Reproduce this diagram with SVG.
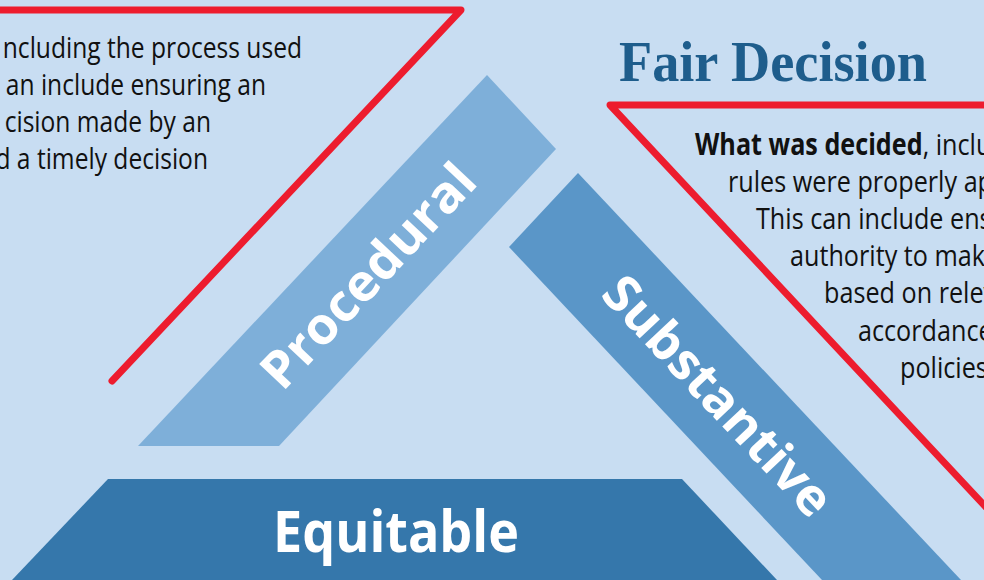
<svg xmlns="http://www.w3.org/2000/svg" width="984" height="580" viewBox="0 0 984 580">
  <style>
    .body { font-family: "Open Sans", "Noto Sans", "Liberation Sans", sans-serif; font-size: 30px; fill: #111111; }
    .strong { font-weight: 700; }
    .label { font-family: "Open Sans", "Noto Sans", "Liberation Sans", sans-serif; font-weight: 700; fill: #ffffff; text-anchor: middle; }
    .title { font-family: "Liberation Serif", "DejaVu Serif", serif; font-weight: 700; font-size: 57px; fill: #1E5D8C; }
    .frame { fill: none; stroke: #ED1C2E; stroke-width: 7; stroke-linecap: round; stroke-linejoin: round; }
  </style>

  <!-- backdrop -->
  <rect width="984" height="580" fill="#C8DDF2"/>

  <!-- red callout frames -->
  <g id="frames">
    <polyline class="frame" points="-10,10 461,10 112,381"/>
    <polyline class="frame" points="995,105 610,105 998,520"/>
  </g>

  <!-- title -->
  <text class="title" x="619" y="81" textLength="308" lengthAdjust="spacingAndGlyphs">Fair Decision</text>

  <!-- left description, condensed type, runs off the left edge -->
  <g id="procedural-text" class="body" text-anchor="end">
    <text transform="matrix(0.82 0 0 1 302 57.5)">ncluding the process used</text>
    <text transform="matrix(0.82 0 0 1 266 94.5)">an include ensuring an</text>
    <text transform="matrix(0.82 0 0 1 211 131.5)">cision made by an</text>
    <text transform="matrix(0.82 0 0 1 208 168.5)">d a timely decision</text>
  </g>

  <!-- right description, condensed type, runs off the right edge -->
  <g id="substantive-text" class="body">
    <text transform="matrix(0.84 0 0 1 695 154.5)"><tspan class="strong">What was decided</tspan>, inclu</text>
    <text transform="matrix(0.84 0 0 1 728 191.7)">rules were properly ap</text>
    <text transform="matrix(0.84 0 0 1 756 228.9)">This can include ens</text>
    <text transform="matrix(0.84 0 0 1 790 266.1)">authority to mak</text>
    <text transform="matrix(0.84 0 0 1 824 303.3)">based on relev</text>
    <text transform="matrix(0.84 0 0 1 858 340.5)">accordance</text>
    <text transform="matrix(0.84 0 0 1 900 377.7)">policies</text>
  </g>

  <!-- triangle sides -->
  <g id="procedural">
    <polygon points="487,75 556,149 279,446 138,446" fill="#7EAFD9"/>
    <text class="label" font-size="51" transform="translate(381,288) rotate(-46.7)" textLength="287" lengthAdjust="spacingAndGlyphs">Procedural</text>
  </g>

  <g id="substantive">
    <polygon points="578,173 509,247 822,580 961,580" fill="#5A96C8"/>
    <text class="label" font-size="51" transform="translate(705,408) rotate(46.8)" textLength="309" lengthAdjust="spacingAndGlyphs">Substantive</text>
  </g>

  <g id="equitable">
    <polygon points="108,479 682,479 777,580 12,580" fill="#3577AB"/>
    <text class="label" font-size="57" x="396" y="552" textLength="246" lengthAdjust="spacingAndGlyphs">Equitable</text>
  </g>
</svg>
